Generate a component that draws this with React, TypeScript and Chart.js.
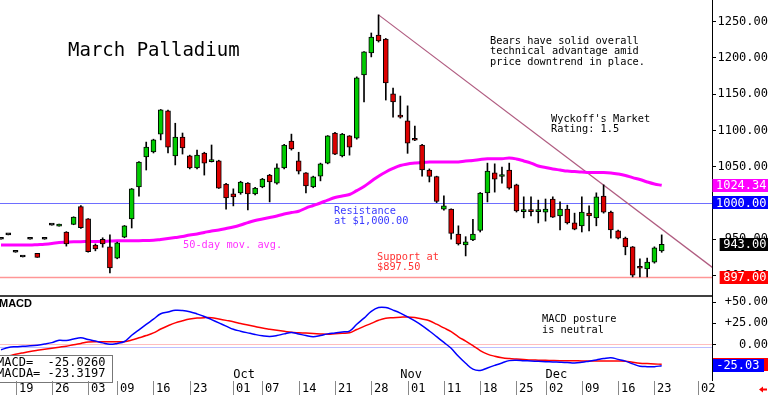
import React, { useEffect, useRef } from 'react';
import { Chart, registerables } from 'chart.js';

Chart.register(...registerables);

// ---------- data ----------
const OPEN = [
  950, 956, 932, 925.5, 950, 930.5, 950, 969.5, 968, 960,
  970.5, 995, 978, 942, 950, 939.5, 924, 953, 978, 1022,
  1063.5, 1070.5, 1095, 1127, 1065, 1091, 1065, 1048.5, 1069, 1057,
  1058, 1026, 1012.5, 1014, 1027.5, 1012.5, 1022, 1038.5, 1027.5, 1048.5,
  1085.5, 1058, 1041.5, 1022, 1037, 1055, 1096.5, 1065, 1092.5, 1089.5,
  1176.5, 1207, 1231.5, 1226, 1150.5, 1119.5, 1113.5, 1087.5, 1080, 1045.5,
  1036.5, 991.5, 991.5, 957, 942, 949, 962, 1014, 1041.5, 1036.5,
  1045.5, 1025, 988, 990.5, 988, 987.5, 1005.5, 982, 991.5, 972.5,
  968.5, 986, 979.5, 1009.5, 987.5, 961.5, 951.5, 939.5, 911, 909,
  918.5, 934,
];
const HIGH = [
  950, 956, 932, 925.5, 950, 930.5, 950, 969.5, 971, 960.5,
  981, 996.5, 978.5, 943.5, 952, 956, 946, 969, 1020, 1057,
  1084, 1088, 1129, 1128, 1110, 1096.5, 1066, 1073, 1070, 1080,
  1059, 1027, 1019.5, 1030, 1028, 1021.5, 1034, 1039.5, 1054, 1081,
  1095, 1070, 1042, 1037, 1055, 1093, 1097.5, 1096, 1093, 1174,
  1209, 1234.5, 1259.5, 1227, 1158.5, 1147.5, 1134, 1106, 1081, 1047,
  1037, 1010, 992, 968.5, 953.5, 977.5, 1014.5, 1055, 1054, 1049.5,
  1055, 1026, 1008.5, 1008.5, 1004, 1005.5, 1008.5, 1001.5, 997, 986,
  1008.5, 996, 1014, 1025, 989, 962.5, 953, 940, 923, 924,
  939.5, 956,
];
const LOW = [
  950, 956, 932, 925.5, 950, 925, 950, 969.5, 968, 940.5,
  970, 965, 932, 934, 939, 903.5, 923, 952, 965.5, 1009.5,
  1045.5, 1069, 1087, 1069, 1052.5, 1067.5, 1047, 1047, 1038.5, 1056.5,
  1020, 991.5, 996, 1012, 990.5, 1011, 1021, 1001.5, 1026, 1047,
  1073, 1040, 1014, 1021, 1030.5, 1054, 1066.5, 1063.5, 1066, 1088,
  1139.5, 1201.5, 1222, 1142, 1118.5, 1117, 1068.5, 1086, 1037, 1029,
  1000.5, 990, 950, 942, 927, 948, 960, 1001.5, 1015, 1027.5,
  1019, 987.5, 979.5, 982, 972.5, 975, 980, 963, 971, 963,
  960, 961.5, 968.5, 986, 951.5, 950.5, 928.5, 898, 898, 898,
  917, 932,
];
const CLOSE = [
  950, 956, 932, 925.5, 950, 925, 950, 969.5, 971, 943.5,
  980.5, 966, 933, 936.5, 943.5, 910.5, 945, 968.5, 1019.5, 1056.5,
  1077, 1087, 1128.5, 1077, 1091, 1076, 1048.5, 1066, 1055, 1058,
  1020.5, 1007, 1008.5, 1029, 1012.5, 1020.5, 1033, 1029, 1048.5, 1080,
  1074.5, 1044, 1023.5, 1036, 1054, 1092.5, 1067.5, 1095, 1077, 1172.5,
  1208.5, 1229, 1223.5, 1165.5, 1139.5, 1118.5, 1082.5, 1086.5, 1045.5, 1036.5,
  1002, 996, 958, 943.5, 946.5, 957, 1013.5, 1044, 1033, 1037.5,
  1020.5, 989, 990.5, 988, 990.5, 991.5, 980.5, 991.5, 972.5, 964,
  987.5, 982, 1008.5, 987.5, 963, 951.5, 939.5, 900.5, 910, 918.5,
  938, 943,
];
const MA50 = [
  942, 942, 942, 942, 942, 942.5, 943, 944, 945.5, 946,
  946.5, 946.5, 947, 947, 947, 947.5, 948, 948, 948, 948,
  948.3, 948.5, 949.7, 951, 952.4, 953.8, 955.9, 957.2, 959.3, 961.4,
  962.8, 964.8, 966.9, 969.7, 973, 975.9, 978, 980, 982, 984.8,
  986.8, 988.6, 993, 996.5, 1000, 1004, 1007.6, 1009.7, 1011.7, 1017,
  1022.8, 1030, 1037, 1042.8, 1047.6, 1051.7, 1053.8, 1055, 1056, 1056.6,
  1056.6, 1056.6, 1056.6, 1056.6, 1058, 1058.6, 1060, 1061, 1061, 1061,
  1062, 1060.7, 1058, 1055, 1051, 1049, 1047, 1045.5, 1044, 1043.4,
  1042.8, 1042, 1042, 1042, 1041.4, 1040, 1038, 1035, 1032.4, 1029,
  1026.2, 1024.34,
];
const MACD = [
  -6.2, -3.6, -2.6, -2.1, -1.6, -0.8, 0.5, 2.2, 5, 4.6,
  6.4, 7.8, 5.8, 4, 1.9, 0.2, 1.3, 3.5, 10.9, 17.3,
  23.6, 29.8, 36.2, 38.2, 40.2, 40, 38.6, 36, 33, 29.3,
  25.5, 21.7, 17.9, 15.7, 13.7, 11.8, 10.3, 9.5, 10.5, 12.5,
  14.2, 12.4, 10.5, 9.2, 10.6, 12.5, 13.6, 14.8, 15.8, 23.9,
  31, 39, 43.5, 43.5, 40.5, 37, 32.5, 27.7, 22.2, 15.9,
  9.2, 2.4, -4.5, -13.9, -22.1, -29, -30.5, -27.6, -24.6, -21.7,
  -19, -18.5, -19, -19.4, -19.8, -20.2, -20.6, -20.9, -21.3, -21.9,
  -21, -19.6, -18.2, -16.6, -15.5, -17.5, -19.6, -22.8, -25.5, -26.1,
  -26.1, -25.026,
];
const MACDA = [
  null, -13.5, -11.6, -9.9, -8.3, -6.9, -5.6, -4.4, -3.2, -2,
  -0.2, 1.3, 2.9, 3.3, 3.3, 3.3, 3.3, 3.3, 5.2, 7.9,
  10.5, 13.7, 18.2, 22.1, 25.5, 27.9, 29.9, 31.1, 31.6, 31.5,
  30, 28.4, 26.8, 24.7, 22.9, 21.1, 19.4, 18, 16.7, 15.5,
  14.3, 13.8, 13.4, 12.9, 12.5, 12.1, 12.7, 13.2, 13.8, 17.6,
  21.3, 24.8, 28.5, 31, 31.6, 32.1, 32.5, 31.7, 29.9, 27.9,
  23.9, 19.5, 15.1, 9.1, 4, -1.4, -7.1, -11.3, -13.8, -15.6,
  -16.6, -17.2, -17.7, -18.2, -18.4, -18.6, -18.9, -19.1, -19.1, -19.2,
  -19.3, -19.3, -19.4, -19.4, -19.4, -19.4, -19.6, -20.9, -22, -22.5,
  -22.9, -23.32,
];
const TREND_X = [52, 98];
const TREND_Y = [1259.5, 911];
const RESISTANCE = 1000;
const SUPPORT = 897.5;
const LAST_MA = 1024.34;
const LAST_CLOSE = 943;
const LAST_MACD = -25.026;
const LAST_MACDA = -23.3197;
const DATE_IDX = [2, 7, 12, 16, 21, 26, 32, 36, 41, 46, 51, 56, 61, 66, 71, 75, 80, 85, 90, 96];
const DATE_LABELS = ['19', '26', '03', '09', '16', '23', '01', '07', '14', '21', '28', '01', '11', '18', '25', '02', '09', '16', '23', '02'];
const MONTH_IDX = [32, 55, 75];
const MONTH_LABELS = ['Oct', 'Nov', 'Dec'];

// ---------- styling ----------
const MONO = '"DejaVu Sans Mono", monospace';
const GREEN = '#00cc00';
const RED = '#dd0000';

function hline(ctx: CanvasRenderingContext2D, x1: number, x2: number, y: number, color: string, w: number) {
  ctx.strokeStyle = color;
  ctx.lineWidth = w;
  ctx.beginPath();
  ctx.moveTo(x1, y);
  ctx.lineTo(x2, y);
  ctx.stroke();
}

function text(ctx: CanvasRenderingContext2D, s: string, x: number, y: number, size: number, color: string, align: CanvasTextAlign = 'left', weightFamily?: string) {
  ctx.font = weightFamily ? weightFamily : `${size}px ${MONO}`;
  ctx.fillStyle = color;
  ctx.textAlign = align;
  ctx.textBaseline = 'middle';
  ctx.fillText(s, x, y);
}

const overlayPlugin = {
  id: 'overlay',
  beforeDatasetsDraw(chart: any) {
    const { ctx, chartArea, scales } = chart;
    const y = scales.y;
    const m = scales.macd;
    ctx.save();
    hline(ctx, chartArea.left, chartArea.right, Math.round(y.getPixelForValue(RESISTANCE)) + 0.5, 'rgb(110,110,255)', 1);
    hline(ctx, chartArea.left, chartArea.right, Math.round(y.getPixelForValue(SUPPORT)) + 0.5, 'rgb(255,150,150)', 1.5);
    hline(ctx, chartArea.left, chartArea.right, Math.round(m.getPixelForValue(0.6)) + 0.5, 'rgb(255,190,190)', 1);
    hline(ctx, chartArea.left, chartArea.right, Math.round(m.getPixelForValue(-2.6)) + 0.5, 'rgb(190,190,255)', 1);
    hline(ctx, chartArea.left, chartArea.right, y.bottom, '#000', 1.5);
    ctx.restore();
  },
  afterDraw(chart: any) {
    const { ctx, scales } = chart;
    const x = scales.x;
    const y = scales.y;
    const m = scales.macd;
    ctx.save();

    // annotations
    text(ctx, 'March Palladium', 68, 51, 19, '#000');
    text(ctx, 'Bears have solid overall', 490, 41, 10.3, '#000');
    text(ctx, 'technical advantage amid', 490, 51.5, 10.3, '#000');
    text(ctx, 'price downtrend in place.', 490, 62, 10.3, '#000');
    text(ctx, "Wyckoff's Market", 551, 119, 10.3, '#000');
    text(ctx, 'Rating: 1.5', 551, 129.5, 10.3, '#000');
    text(ctx, '50-day mov. avg.', 183, 245, 10.3, '#ff33ff');
    text(ctx, 'Resistance', 334, 211, 10.3, '#3a3aff');
    text(ctx, 'at $1,000.00', 334, 221, 10.3, '#3a3aff');
    text(ctx, 'Support at', 377, 257, 10.3, '#ff3333');
    text(ctx, '$897.50', 377, 267, 10.3, '#ff3333');
    text(ctx, 'MACD posture', 542, 319, 10.3, '#000');
    text(ctx, 'is neutral', 542, 330, 10.3, '#000');
    text(ctx, 'MACD', -1, 304, 11, '#000', 'left', 'bold 11px "Liberation Sans", Arial, sans-serif');

    // value boxes on the right axis
    const priceBox = (v: number, bg: string) => {
      const py = y.getPixelForValue(v);
      const s = v.toFixed(2);
      ctx.font = `12px ${MONO}`;
      const w = ctx.measureText(s).width;
      ctx.fillStyle = bg;
      ctx.fillRect(766 - w - 3, Math.round(py - 6.5), 768 - (766 - w - 3), 13);
      text(ctx, s, 766.5, py + 0.5, 12, '#fff', 'right');
    };
    priceBox(LAST_MA, '#ff00ff');
    priceBox(RESISTANCE, '#0000ff');
    priceBox(LAST_CLOSE, '#000000');
    priceBox(897, '#ff0000');

    const ra = m.getPixelForValue(LAST_MACDA);
    ctx.fillStyle = '#ff0000';
    ctx.fillRect(713, Math.round(ra - 6.5), 55, 13);
    const rb = m.getPixelForValue(LAST_MACD);
    ctx.fillStyle = '#0000ff';
    ctx.fillRect(713, Math.round(rb - 6.5), 51, 13);
    text(ctx, LAST_MACD.toFixed(2), 759.5, rb + 0.5, 12, '#fff', 'right');

    // MACD values legend box
    ctx.fillStyle = '#fff';
    ctx.fillRect(-1, 355, 114, 27);
    ctx.strokeStyle = '#777';
    ctx.lineWidth = 1;
    ctx.strokeRect(-1.5, 355.5, 114, 27);
    text(ctx, 'MACD=  ' + LAST_MACD.toFixed(4), -3, 363, 12, '#000');
    text(ctx, 'MACDA= ' + LAST_MACDA.toFixed(4), -3, 374, 12, '#000');

    // month labels
    MONTH_IDX.forEach((v, k) => {
      text(ctx, MONTH_LABELS[k], x.getPixelForValue(v), 375, 12, '#000');
    });
    // date separators + labels
    ctx.strokeStyle = '#888';
    ctx.lineWidth = 1;
    DATE_IDX.forEach((v, k) => {
      const px = Math.round(x.getPixelForValue(v)) + 0.5;
      ctx.beginPath();
      ctx.moveTo(px, 381);
      ctx.lineTo(px, 395);
      ctx.stroke();
      text(ctx, DATE_LABELS[k], px + 2.5, 388.5, 12, '#000');
    });

    // small red arrow bottom right
    ctx.fillStyle = '#ff0000';
    ctx.beginPath();
    ctx.moveTo(759, 389.5);
    ctx.lineTo(763, 386.5);
    ctx.lineTo(763, 388.5);
    ctx.lineTo(767, 388.5);
    ctx.lineTo(767, 390.5);
    ctx.lineTo(763, 390.5);
    ctx.lineTo(763, 392.5);
    ctx.closePath();
    ctx.fill();

    ctx.restore();
  },
};

export default function App() {
  const canvasRef = useRef<HTMLCanvasElement | null>(null);

  useEffect(() => {
    const canvas = canvasRef.current;
    if (!canvas) return;
    const idx = OPEN.map((_, i) => i);
    const bodyColors = idx.map((i) => (CLOSE[i] > OPEN[i] ? GREEN : CLOSE[i] < OPEN[i] ? RED : '#000'));

    const axisCommon = {
      type: 'linear' as const,
      position: 'right' as const,
      stack: 'panes',
      afterFit: (s: any) => {
        s.width = 56;
        s.paddingTop = 0;
        s.paddingBottom = 0;
      },
      grid: { drawOnChartArea: false, drawTicks: true, tickLength: 4, color: '#000', lineWidth: 1 },
      border: { display: true, color: '#000', width: 1 },
    };

    const chart = new Chart(canvas, {
      type: 'bar',
      data: {
        datasets: [
          {
            type: 'line',
            label: 'trend',
            data: TREND_X.map((v, k) => ({ x: v, y: TREND_Y[k] })),
            yAxisID: 'y',
            borderColor: 'rgb(176,92,128)',
            borderWidth: 1.2,
            pointRadius: 0,
            order: 8,
          },
          {
            type: 'line',
            label: '50-day MA',
            data: idx.map((i) => ({ x: i, y: MA50[i] })),
            yAxisID: 'y',
            borderColor: '#ff00ff',
            borderWidth: 3,
            pointRadius: 0,
            tension: 0.4,
            order: 7,
          },
          {
            type: 'bar',
            label: 'range',
            data: idx.map((i) => ({ x: i, y: [LOW[i], HIGH[i]] })),
            yAxisID: 'y',
            backgroundColor: '#000',
            borderWidth: 0,
            barThickness: 1,
            grouped: false,
            order: 2,
          },
          {
            type: 'bar',
            label: 'body',
            data: idx.map((i) => ({ x: i, y: [OPEN[i], CLOSE[i]] })),
            yAxisID: 'y',
            backgroundColor: bodyColors,
            borderColor: '#000',
            borderWidth: 1,
            borderSkipped: false,
            barThickness: 5,
            minBarLength: 2,
            grouped: false,
            order: 1,
          },
          {
            type: 'line',
            label: 'MACDA',
            data: idx.filter((i) => MACDA[i] !== null).map((i) => ({ x: i, y: MACDA[i] })),
            yAxisID: 'macd',
            borderColor: '#ff0000',
            borderWidth: 1.5,
            pointRadius: 0,
            tension: 0.4,
            order: 4,
          },
          {
            type: 'line',
            label: 'MACD',
            data: idx.map((i) => ({ x: i, y: MACD[i] })),
            yAxisID: 'macd',
            borderColor: '#0000ff',
            borderWidth: 1.5,
            pointRadius: 0,
            tension: 0.4,
            order: 3,
          },
        ] as any,
      },
      options: {
        responsive: false,
        animation: false,
        devicePixelRatio: 1,
        layout: { padding: { left: 0, right: 0, top: 0, bottom: 15 } },
        plugins: { legend: { display: false }, tooltip: { enabled: false } },
        scales: {
          x: { type: 'linear', min: -0.14, max: 97.93, display: false, offset: false },
          y: {
            ...axisCommon,
            stackWeight: 296,
            min: 871.7,
            max: 1280,
            ticks: {
              stepSize: 50,
              includeBounds: false,
              autoSkip: false,
              padding: 0,
              crossAlign: 'far',
              color: '#000',
              font: { family: '"DejaVu Sans Mono"', size: 12 },
              callback: (v: any) => Number(v).toFixed(2),
            },
          },
          macd: {
            ...axisCommon,
            stackWeight: 84,
            min: -41.8,
            max: 57.1,
            ticks: {
              stepSize: 25,
              includeBounds: false,
              autoSkip: false,
              padding: 0,
              crossAlign: 'far',
              color: '#000',
              font: { family: '"DejaVu Sans Mono"', size: 12 },
              callback: (v: any) => (Number(v) > 0 ? '+' : '') + Number(v).toFixed(2),
            },
          },
        } as any,
      },
      plugins: [overlayPlugin],
    });
    return () => chart.destroy();
  }, []);

  return (
    <div style={{ position: 'absolute', left: 0, top: 0, width: 768, height: 395, background: '#fff' }}>
      <canvas ref={canvasRef} width={768} height={395} style={{ display: 'block', width: 768, height: 395 }} />
    </div>
  );
}
